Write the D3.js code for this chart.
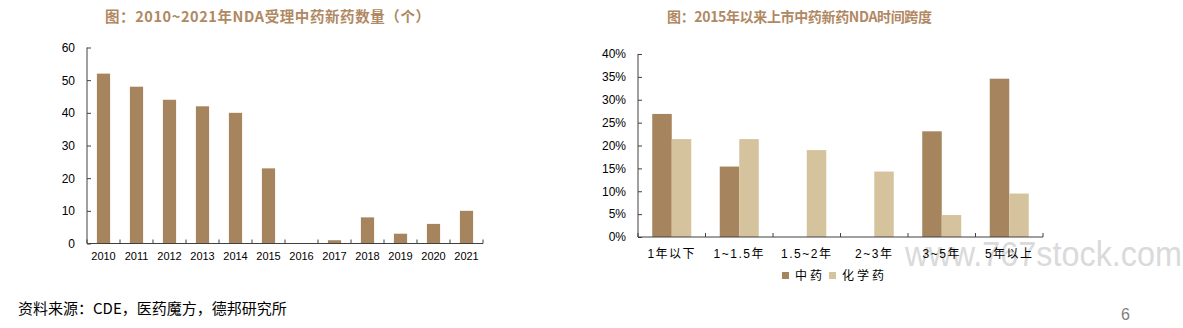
<!DOCTYPE html>
<html>
<head>
<meta charset="utf-8">
<script src="https://cdn.jsdelivr.net/npm/d3@7"></script>
<style>
  html, body { margin: 0; padding: 0; background: #fff; }
  svg { display: block; }
</style>
</head>
<body>
<svg id="chart" width="1183" height="328"></svg>
<script>
// Left panel: NDA applications accepted for new TCM drugs per year
const years = ["2010","2011","2012","2013","2014","2015","2016","2017","2018","2019","2020","2021"];
const ndaCounts = [52, 48, 44, 42, 40, 23, 0, 1, 8, 3, 6, 10];
const leftTicks = [0, 10, 20, 30, 40, 50, 60];

// Right panel: time span from NDA to approval since 2015
const spans = ["1年以下", "1~1.5年", "1.5~2年", "2~3年", "3~5年", "5年以上"];
const seriesNames = ["中药", "化学药"];
const tcmShare = [26.9, 15.4, 0, 0, 23.1, 34.6];
const chemShare = [21.4, 21.4, 19.0, 14.3, 4.8, 9.5];
const rightTicks = [0, 5, 10, 15, 20, 25, 30, 35, 40];

const darkBar = "#a6845d";
const lightBar = "#d5c39d";
const axisColor = "#404040";
const titleColor = "#b08862";
const tickFont = "'Liberation Sans', Arial, 'Noto Sans CJK SC', sans-serif";
const cjkFont = "'Noto Sans CJK SC', 'Liberation Sans', sans-serif";

const svg = d3.select("#chart");

// ---------- left chart ----------
const L = { x0: 87, x1: 483, y0: 243.5, y1: 47.5 };
const xL = d3.scaleBand().domain(years).range([L.x0, L.x1]).padding(0);
const yL = d3.scaleLinear().domain([0, 60]).range([L.y0, L.y1]);
const barFracL = 0.4;

svg.append("text")
  .attr("x", 105).attr("y", 22)
  .attr("font-family", cjkFont).attr("font-weight", "bold")
  .attr("font-size", 14.5).attr("fill", titleColor)
  .attr("textLength", 325).attr("lengthAdjust", "spacing")
  .text("图：2010~2021年NDA受理中药新药数量（个）");

const gL = svg.append("g");
gL.selectAll("rect.bar")
  .data(years.map((y, i) => ({ y, v: ndaCounts[i] })))
  .join("rect")
  .attr("class", "bar")
  .attr("x", d => xL(d.y) + xL.bandwidth() * (1 - barFracL) / 2)
  .attr("width", xL.bandwidth() * barFracL)
  .attr("y", d => yL(d.v))
  .attr("height", d => yL(0) - yL(d.v))
  .attr("fill", darkBar);

// y axis with inward ticks
const yAxisL = d3.axisLeft(yL).tickValues(leftTicks).tickSize(-4).tickPadding(12);
gL.append("g").attr("transform", `translate(${L.x0},0)`).call(yAxisL)
  .call(g => {
    g.select(".domain").attr("stroke", axisColor).attr("d", `M0,${L.y1}V${L.y0}`);
    g.selectAll(".tick line").attr("stroke", axisColor);
    g.selectAll(".tick text").attr("font-family", tickFont).attr("font-size", 12).attr("fill", "#000");
  });

// x axis: labels centred on the categories, ticks on the boundaries
const xAxisL = d3.axisBottom(xL).tickSize(0).tickPadding(9);
gL.append("g").attr("transform", `translate(0,${L.y0})`).call(xAxisL)
  .call(g => {
    g.select(".domain").attr("stroke", axisColor).attr("d", `M${L.x0},0H${L.x1}`);
    g.selectAll(".tick text").attr("font-family", tickFont).attr("font-size", 11).attr("fill", "#000");
  });
gL.append("g").selectAll("line")
  .data(d3.range(years.length + 1))
  .join("line")
  .attr("x1", i => L.x0 + i * xL.step()).attr("x2", i => L.x0 + i * xL.step())
  .attr("y1", L.y0).attr("y2", L.y0 - 4)
  .attr("stroke", axisColor);

// ---------- right chart ----------
const R = { x0: 638, x1: 1043, y0: 237, y1: 54 };
const xR = d3.scaleBand().domain(spans).range([R.x0, R.x1]).padding(0);
const groupFrac = 0.578;
const xSub = d3.scaleBand().domain(seriesNames)
  .range([xR.bandwidth() * (1 - groupFrac) / 2, xR.bandwidth() * (1 + groupFrac) / 2]);
const yR = d3.scaleLinear().domain([0, 40]).range([R.y0, R.y1]);
const colorR = d3.scaleOrdinal().domain(seriesNames).range([darkBar, lightBar]);

svg.append("text")
  .attr("x", 667).attr("y", 22)
  .attr("font-family", cjkFont).attr("font-weight", "bold")
  .attr("font-size", 14).attr("fill", titleColor)
  .attr("textLength", 265).attr("lengthAdjust", "spacing")
  .text("图：2015年以来上市中药新药NDA时间跨度");

const gR = svg.append("g");
const rows = spans.map((s, i) => ({ s, vals: [tcmShare[i], chemShare[i]] }));
gR.selectAll("g.grp")
  .data(rows)
  .join("g")
  .attr("class", "grp")
  .attr("transform", d => `translate(${xR(d.s)},0)`)
  .selectAll("rect")
  .data(d => d.vals.map((v, k) => ({ k: seriesNames[k], v })))
  .join("rect")
  .attr("x", d => xSub(d.k))
  .attr("width", xSub.bandwidth())
  .attr("y", d => yR(d.v))
  .attr("height", d => yR(0) - yR(d.v))
  .attr("fill", d => colorR(d.k));

const yAxisR = d3.axisLeft(yR).tickValues(rightTicks).tickSize(-4).tickPadding(12)
  .tickFormat(d => d + "%");
gR.append("g").attr("transform", `translate(${R.x0},0)`).call(yAxisR)
  .call(g => {
    g.select(".domain").attr("stroke", axisColor).attr("d", `M0,${R.y1}V${R.y0}`);
    g.selectAll(".tick line").attr("stroke", axisColor);
    g.selectAll(".tick text").attr("font-family", tickFont).attr("font-size", 12).attr("fill", "#000");
  });

const xAxisR = d3.axisBottom(xR).tickSize(0).tickPadding(12);
gR.append("g").attr("transform", `translate(0,${R.y0})`).call(xAxisR)
  .call(g => {
    g.select(".domain").attr("stroke", axisColor).attr("d", `M${R.x0},0H${R.x1}`);
    g.selectAll(".tick text").attr("font-family", tickFont).attr("font-size", 12)
      .attr("letter-spacing", 1.5).attr("fill", "#000");
  });
gR.append("g").selectAll("line")
  .data(d3.range(spans.length + 1))
  .join("line")
  .attr("x1", i => R.x0 + i * xR.step()).attr("x2", i => R.x0 + i * xR.step())
  .attr("y1", R.y0).attr("y2", R.y0 - 4)
  .attr("stroke", axisColor);

// legend
const legendX = [782, 829];
const legend = svg.append("g").selectAll("g")
  .data(seriesNames)
  .join("g")
  .attr("transform", (d, i) => `translate(${legendX[i]},272)`);
legend.append("rect").attr("width", 7).attr("height", 7).attr("fill", d => colorR(d));
legend.append("text")
  .attr("x", 13).attr("y", 7.5)
  .attr("font-family", cjkFont).attr("font-size", 12)
  .attr("letter-spacing", 3).attr("fill", "#000")
  .text(d => d);

// watermark behind the right panel's lower corner
svg.insert("text", ":first-child")
  .attr("x", 905).attr("y", 266)
  .attr("font-family", "'Liberation Sans', Arial, sans-serif")
  .attr("font-size", 35).attr("fill", "#dadada")
  .attr("textLength", 277).attr("lengthAdjust", "spacingAndGlyphs")
  .text("www.767stock.com");

// source note and page number
svg.append("text")
  .attr("x", 18).attr("y", 314)
  .attr("font-family", cjkFont).attr("font-size", 15).attr("fill", "#000")
  .text("资料来源：CDE，医药魔方，德邦研究所");
svg.append("text")
  .attr("x", 1121).attr("y", 320)
  .attr("font-family", tickFont).attr("font-size", 16).attr("fill", "#808080")
  .text("6");
</script>
</body>
</html>
